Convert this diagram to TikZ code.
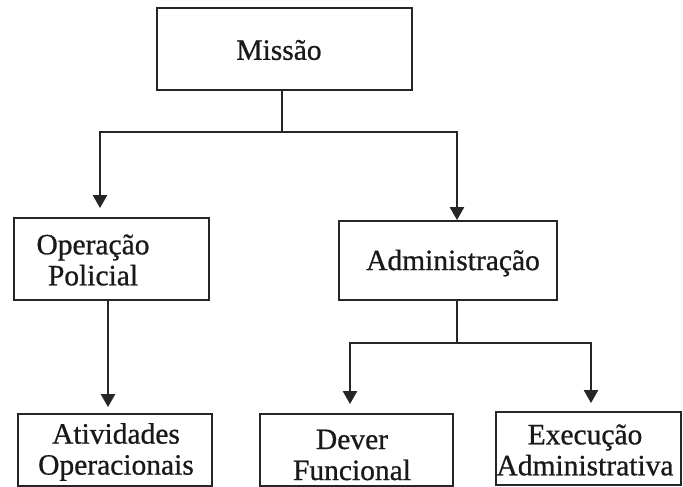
\documentclass[tikz,border=0pt]{standalone}
\usepackage{fontspec}
\setmainfont{Liberation Serif}
\newfontfamily\slabfont{Liberation Serif}[FakeBold=0.8]
\usetikzlibrary{arrows.meta}
\tikzset{
  box/.style={draw=black!85, line width=1.8pt, rectangle, inner sep=0pt},
  txt/.style={inner sep=0pt, align=center, font=\slabfont\fontsize{29.5}{31}\selectfont, text=black!90},
  conn/.style={draw=black!85, line width=2.2pt},
  arr/.style={conn, -{Triangle[width=14pt,length=13pt]}}
}
\begin{document}
\begin{tikzpicture}[x=1pt,y=-1pt]
\useasboundingbox (0,0) rectangle (683,487);
% boxes
\node[box, minimum width=255pt, minimum height=82pt] (missao) at (284.5,49) {};
\node[box, minimum width=195pt, minimum height=82pt] (op) at (111.5,259) {};
\node[box, minimum width=218pt, minimum height=79pt] (adm) at (448,260.5) {};
\node[box, minimum width=194pt, minimum height=72pt] (ativ) at (115,450) {};
\node[box, minimum width=193pt, minimum height=72pt] (dever) at (356.5,450) {};
\node[box, minimum width=185pt, minimum height=73pt] (exec) at (588.5,448.5) {};
% texts
\node[txt] (tmissao) at (279,50) {Missão};
\node[txt] (top) at (93,260) {Operação\\Policial};
\node[txt] (tadm) at (453,263) {Administração};
\node[txt] (tativ) at (116,452) {Atividades\\Operacionais};
\node[txt] (tdever) at (352,455) {Dever\\Funcional};
\node[txt] (texec) at (585,450) {Execução\\Administrativa};
% junction coordinates
\coordinate (j1) at (282,132);
\coordinate (jL) at (100,132);
\coordinate (jR) at (457,132);
\coordinate (xop) at (108,0);
\coordinate (j2) at (457,343);
\coordinate (j2L) at (350,343);
\coordinate (j2R) at (591,343);
% connectors
\draw[conn] (missao.south -| j1) -- (j1);
\draw[arr, shorten >=9pt] (j1) -- (jL) -- (jL |- op.north);
\draw[arr] (j1) -- (jR) -- (jR |- adm.north);
\draw[arr, shorten >=6pt] (op.south -| xop) -- (ativ.north -| xop);
\draw[conn] (adm.south -| j2) -- (j2);
\draw[arr, shorten >=9pt] (j2) -- (j2L) -- (j2L |- dever.north);
\draw[arr, shorten >=8pt] (j2) -- (j2R) -- (j2R |- exec.north);
\end{tikzpicture}
\end{document}
